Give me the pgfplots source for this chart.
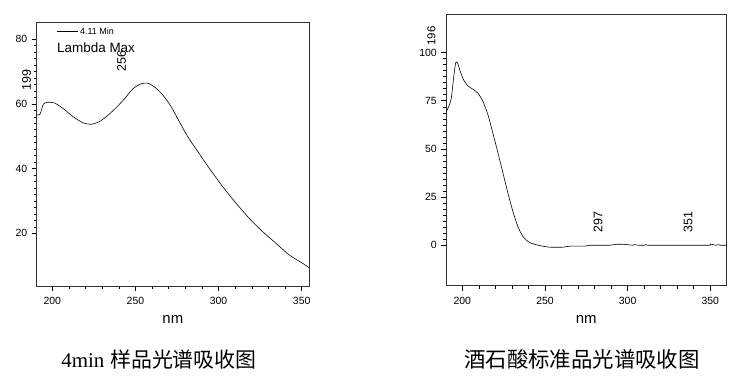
\documentclass[border=0pt]{standalone}
\usepackage{fontspec}
\setmainfont{Liberation Sans}
\newfontfamily\serifff{Liberation Serif}
\newfontfamily\cjk{Noto Sans CJK SC}
\usepackage{pgfplots}
\pgfplotsset{compat=1.18}
\begin{document}
\begin{tikzpicture}
\path[use as bounding box] (0,0) rectangle (746bp,382bp);
\pgfplotsset{
  common/.style={
    scale only axis,
    anchor=south west,
    axis line style={black!80, line width=0.8pt},
    tick align=outside,
    tick pos=lower,
    xtick pos=bottom, ytick pos=left,
    major tick length=5bp,
    minor tick length=3bp,
    every tick/.style={black, line width=0.6pt},
    /pgf/number format/assume math mode=true,
    ticklabel style={font=\fontsize{10.5}{12}\selectfont},
    xticklabel style={yshift=-3bp},
    yticklabel style={xshift=-1bp},
    xtick={200,250,300,350},
    minor x tick num=4,
    clip=false,
    xlabel={nm},
    xlabel style={font=\fontsize{15}{17}\selectfont, anchor=center},
  }
}
% left axis
\begin{axis}[common,
  at={(36.7bp,96bp)},
  width=272.3bp, height=263.3bp,
  xmin=190.6, xmax=354.4, ymin=3.7, ymax=85.1,
  ytick={20,40,60,80},
  minor y tick num=9,
  xlabel style={at={(axis description cs:0.5,-0.129)}},
  legend style={at={(axis description cs:0.072,0.966)}, anchor=west, draw=none, fill=none,
    inner sep=0pt, font=\fontsize{9}{10}\selectfont, cells={anchor=west}},
  legend image code/.code={\draw[#1] (0bp,0bp) -- (21bp,0bp);},
]
\addplot[black, line width=0.6pt, smooth, tension=0.4] coordinates {
(190.6,56.6) (192.6,56.8) (194.6,59.9) (197.2,60.5) (201.2,60.3) (206.2,58.7)
(212.3,56.1) (218.3,54.2) (223.3,53.7) (228.3,54.5) (233.3,56.4) (238.3,58.8)
(243.3,61.5) (248.3,64.6) (253.3,66.2) (257.4,66.4) (261.3,65.3) (266.4,62.8)
(271.4,59.2) (276.4,54.5) (281.4,49.9) (286.4,46.1) (294.4,40.1) (302.5,34.4)
(310.5,29.3) (318.5,24.6) (326.5,20.5) (334.5,16.9) (342.5,13.3) (350.6,10.7)
(354.4,9.4)
};
\addlegendentry{4.11 Min}
\end{axis}
% right axis
\begin{axis}[common,
  at={(446.3bp,96.3bp)},
  width=280bp, height=271.4bp,
  xmin=190.3, xmax=359.7, ymin=-21, ymax=119.9,
  ytick={0,25,50,75,100},
  minor y tick num=7,
  xlabel style={at={(axis description cs:0.5,-0.126)}},
]
\addplot[black, line width=0.6pt, smooth, tension=0.4] coordinates {
(190.3,69.4) (191.9,72.3) (193.3,76.3) (194.8,87.5) (196.0,94.8) (197.2,94.5)
(198.8,90.1) (200.8,85.8) (203.4,82.7) (206.4,81.0) (209.5,78.9) (212.5,74.6)
(215.5,67.7) (218.5,58.1) (221.6,47.8) (224.6,37.4) (227.6,27.0) (230.6,17.5)
(233.6,9.7) (236.7,4.5) (240.7,1.4) (246.9,-0.2) (252.9,-1.0) (260.9,-1.0)
(264.9,-0.5) (275,-0.4) (277,0) (289,0) (293,0.5) (297,0.5) (300,0.3) (303,0) (304,0.3)
(307,0) (310,0) (311,0.4) (312.5,0) (330,0) (349,0) (350,0.5) (352,0.3) (353,0) (355,0.3) (356,0) (359.7,0)
};
\end{axis}
% annotations
\node[anchor=west, inner sep=0pt, font=\fontsize{13.5}{15}\selectfont] at (57bp,334.3bp) {Lambda Max};
\node[rotate=90, inner sep=0pt, font=\fontsize{12.5}{14}\selectfont] at (26.7bp,302bp) {199};
\node[rotate=90, inner sep=0pt, font=\fontsize{12.5}{14}\selectfont] at (121.7bp,321bp) {256};
\node[rotate=90, inner sep=0pt, font=\fontsize{11.5}{13}\selectfont] at (431.3bp,346bp) {196};
\node[rotate=90, inner sep=0pt, font=\fontsize{12.5}{14}\selectfont] at (598bp,160bp) {297};
\node[rotate=90, inner sep=0pt, font=\fontsize{12.5}{14}\selectfont] at (688bp,160bp) {351};
% captions
\node[anchor=base, inner sep=0pt, font=\fontsize{21}{24}\selectfont] at (159bp,15bp) {{\serifff 4min} {\cjk 样品光谱吸收图}};
\node[anchor=base, inner sep=0pt, font=\fontsize{21.5}{24}\selectfont] at (582bp,15bp) {\cjk 酒石酸标准品光谱吸收图};
\end{tikzpicture}
\end{document}
